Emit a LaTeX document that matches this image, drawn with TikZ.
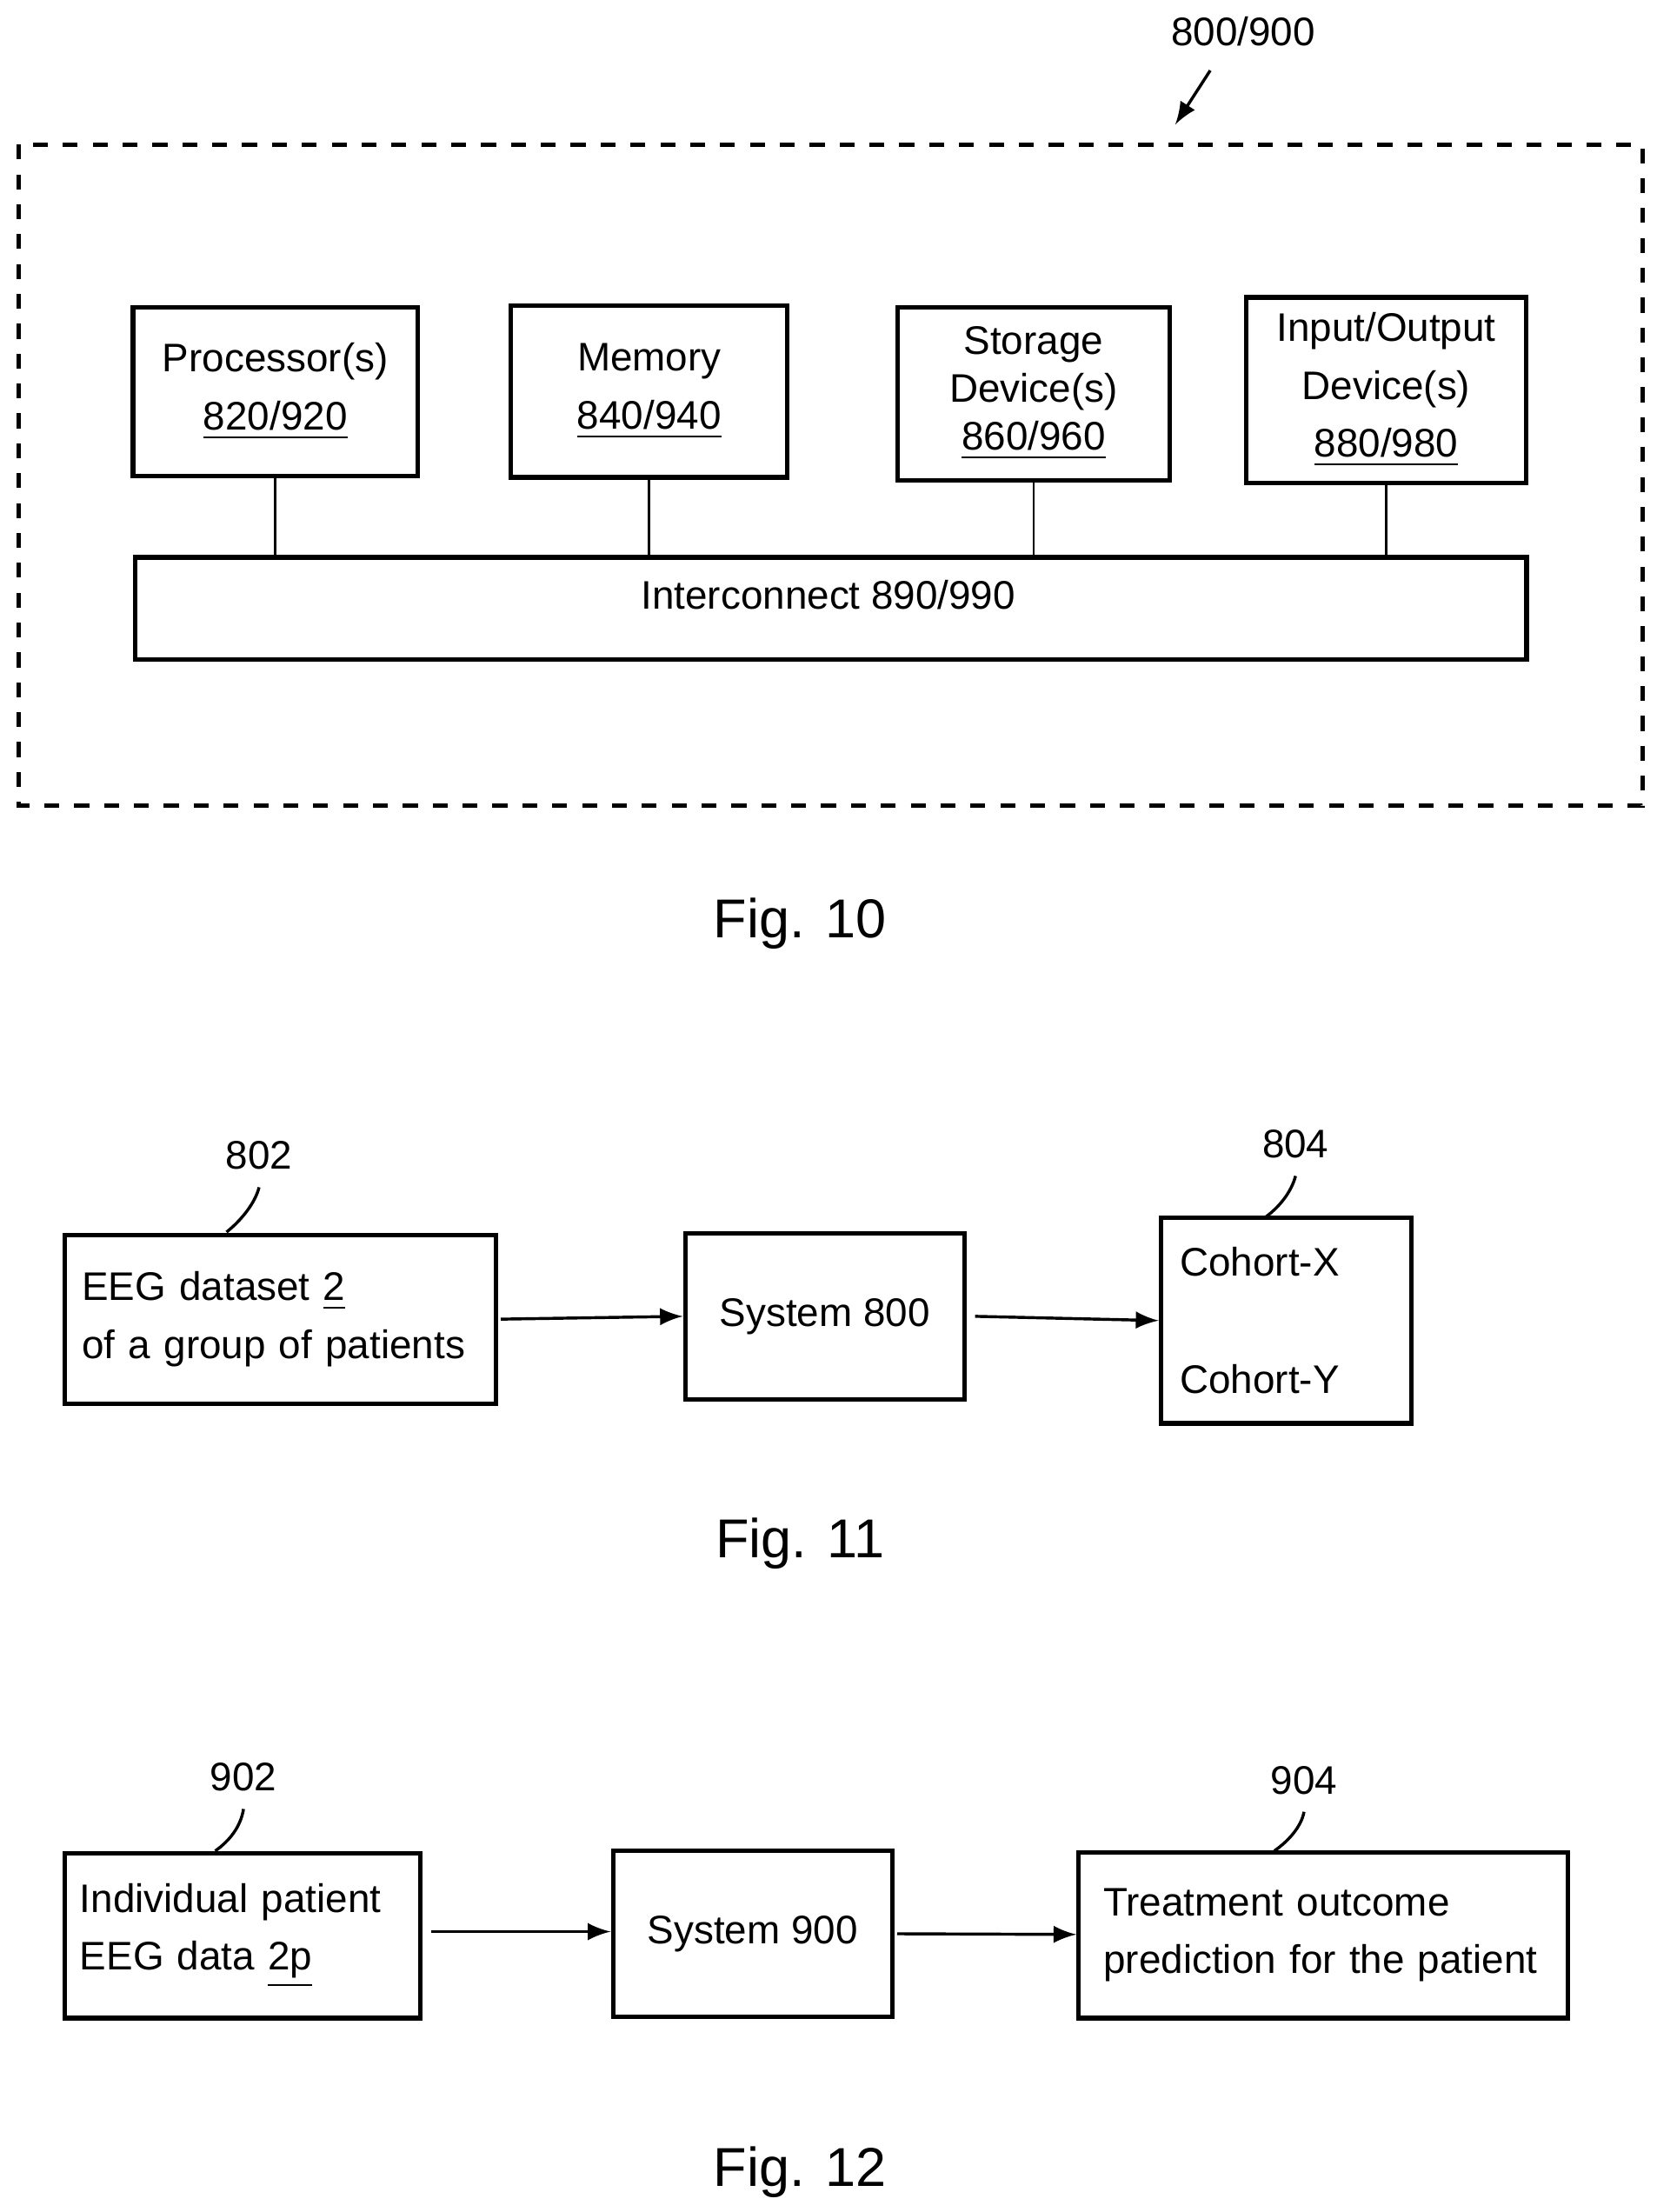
\documentclass[tikz,border=0pt]{standalone}
\usepackage{fontspec}
\setmainfont{Liberation Sans}
\usetikzlibrary{positioning}
\tikzset{
  box/.style={draw, line width=0.9pt, inner sep=2pt, font=\fontsize{8}{9.6}\selectfont},
  lbl/.style={font=\fontsize{8}{9.6}\selectfont},
  figlbl/.style={font=\fontsize{11}{13}\selectfont},
  arr/.style={-latex, line width=0.6pt},
}
\begin{document}
\begin{tikzpicture}[x=0.01cm,y=-0.01cm]
  \useasboundingbox (0,0) rectangle (1170,1562);
  % Fig. 10
  \draw[dashed, line width=0.9pt] (13,102) rectangle (1160,569);
  \node[box, minimum width=2.01cm, minimum height=1.19cm, align=center] (proc) at (194.5,276.5) {Processor(s)\\[2pt]\underline{820/920}};
  \node[box, minimum width=1.95cm, minimum height=1.21cm, align=center] (mem) at (458.5,276.5) {Memory\\[2pt]\underline{840/940}};
  \node[box, minimum width=1.92cm, minimum height=1.22cm, align=center] (stor) at (730,278) {Storage\\Device(s)\\\underline{860/960}};
  \node[box, minimum width=1.98cm, minimum height=1.31cm, align=center] (io) at (979,275.5) {Input/Output\\[2pt]Device(s)\\[2pt]\underline{880/980}};
  \node[box, minimum width=9.82cm, minimum height=0.72cm, anchor=north west] (ic) at (94,392) {};
  \node[lbl] at (585,420) {Interconnect 890/990};
  \foreach \n in {proc,mem,stor,io} {
    \draw[line width=0.5pt] (\n.south) -- (\n.south |- ic.north);
  }
  \node[lbl] (sys) at (878,22) {800/900};
  \coordinate (sysend) at (830,88);
  \draw[arr] (sys.south west) ++(40,5) -- (sysend);
  \node[figlbl] at (565,652) {Fig. 10};
  % Fig. 11
  \node[box, minimum width=3.04cm, minimum height=1.19cm, align=left, text width=2.8cm] (eeg) at (198,931.5) {EEG dataset \underline{2}\\[2pt]of a group of patients};
  \node[box, minimum width=1.97cm, minimum height=1.17cm] (s800) at (582.5,929.5) {System 800};
  \node[box, minimum width=1.77cm, minimum height=1.45cm, align=left, text width=1.5cm] (coh) at (908.5,932.5) {Cohort-X\\[14pt]Cohort-Y};
  \draw[arr] (eeg.east) ++(2,0) -- (s800.west);
  \draw[arr] (s800.east) ++(6,0) -- (coh.west);
  \node[lbl] (l802) at (183,816) {802};
  \node[lbl] (l804) at (915,808) {804};
  \draw[line width=0.6pt] (l802.south) .. controls (180,850) and (170,862) .. (160,870);
  \draw[line width=0.6pt] (l804.south) .. controls (912,842) and (903,853) .. (893,860);
  \node[figlbl] at (565,1090) {Fig. 11};
  % Fig. 12
  \node[box, minimum width=2.51cm, minimum height=1.16cm, align=left, text width=2.3cm] (ind) at (171.5,1367) {Individual patient\\[2pt]EEG data \underline{2p}};
  \node[box, minimum width=1.97cm, minimum height=1.17cm] (s900) at (531.5,1365.5) {System 900};
  \node[box, minimum width=3.45cm, minimum height=1.17cm, align=left, text width=3.1cm] (treat) at (934.5,1366.5) {Treatment outcome\\[2pt]prediction for the patient};
  \draw[arr] (ind.east) ++(6,-3) -- (s900.west |- 0,1364);
  \draw[arr] (s900.east) ++(2,0) -- (treat.west |- 0,1366);
  \node[lbl] (l902) at (172,1255) {902};
  \node[lbl] (l904) at (921,1257) {904};
  \draw[line width=0.6pt] (l902.south) .. controls (170,1290) and (162,1300) .. (152,1307);
  \draw[line width=0.6pt] (l904.south) .. controls (919,1290) and (910,1300) .. (900,1307);
  \node[figlbl] at (565,1534) {Fig. 12};
\end{tikzpicture}
\end{document}
